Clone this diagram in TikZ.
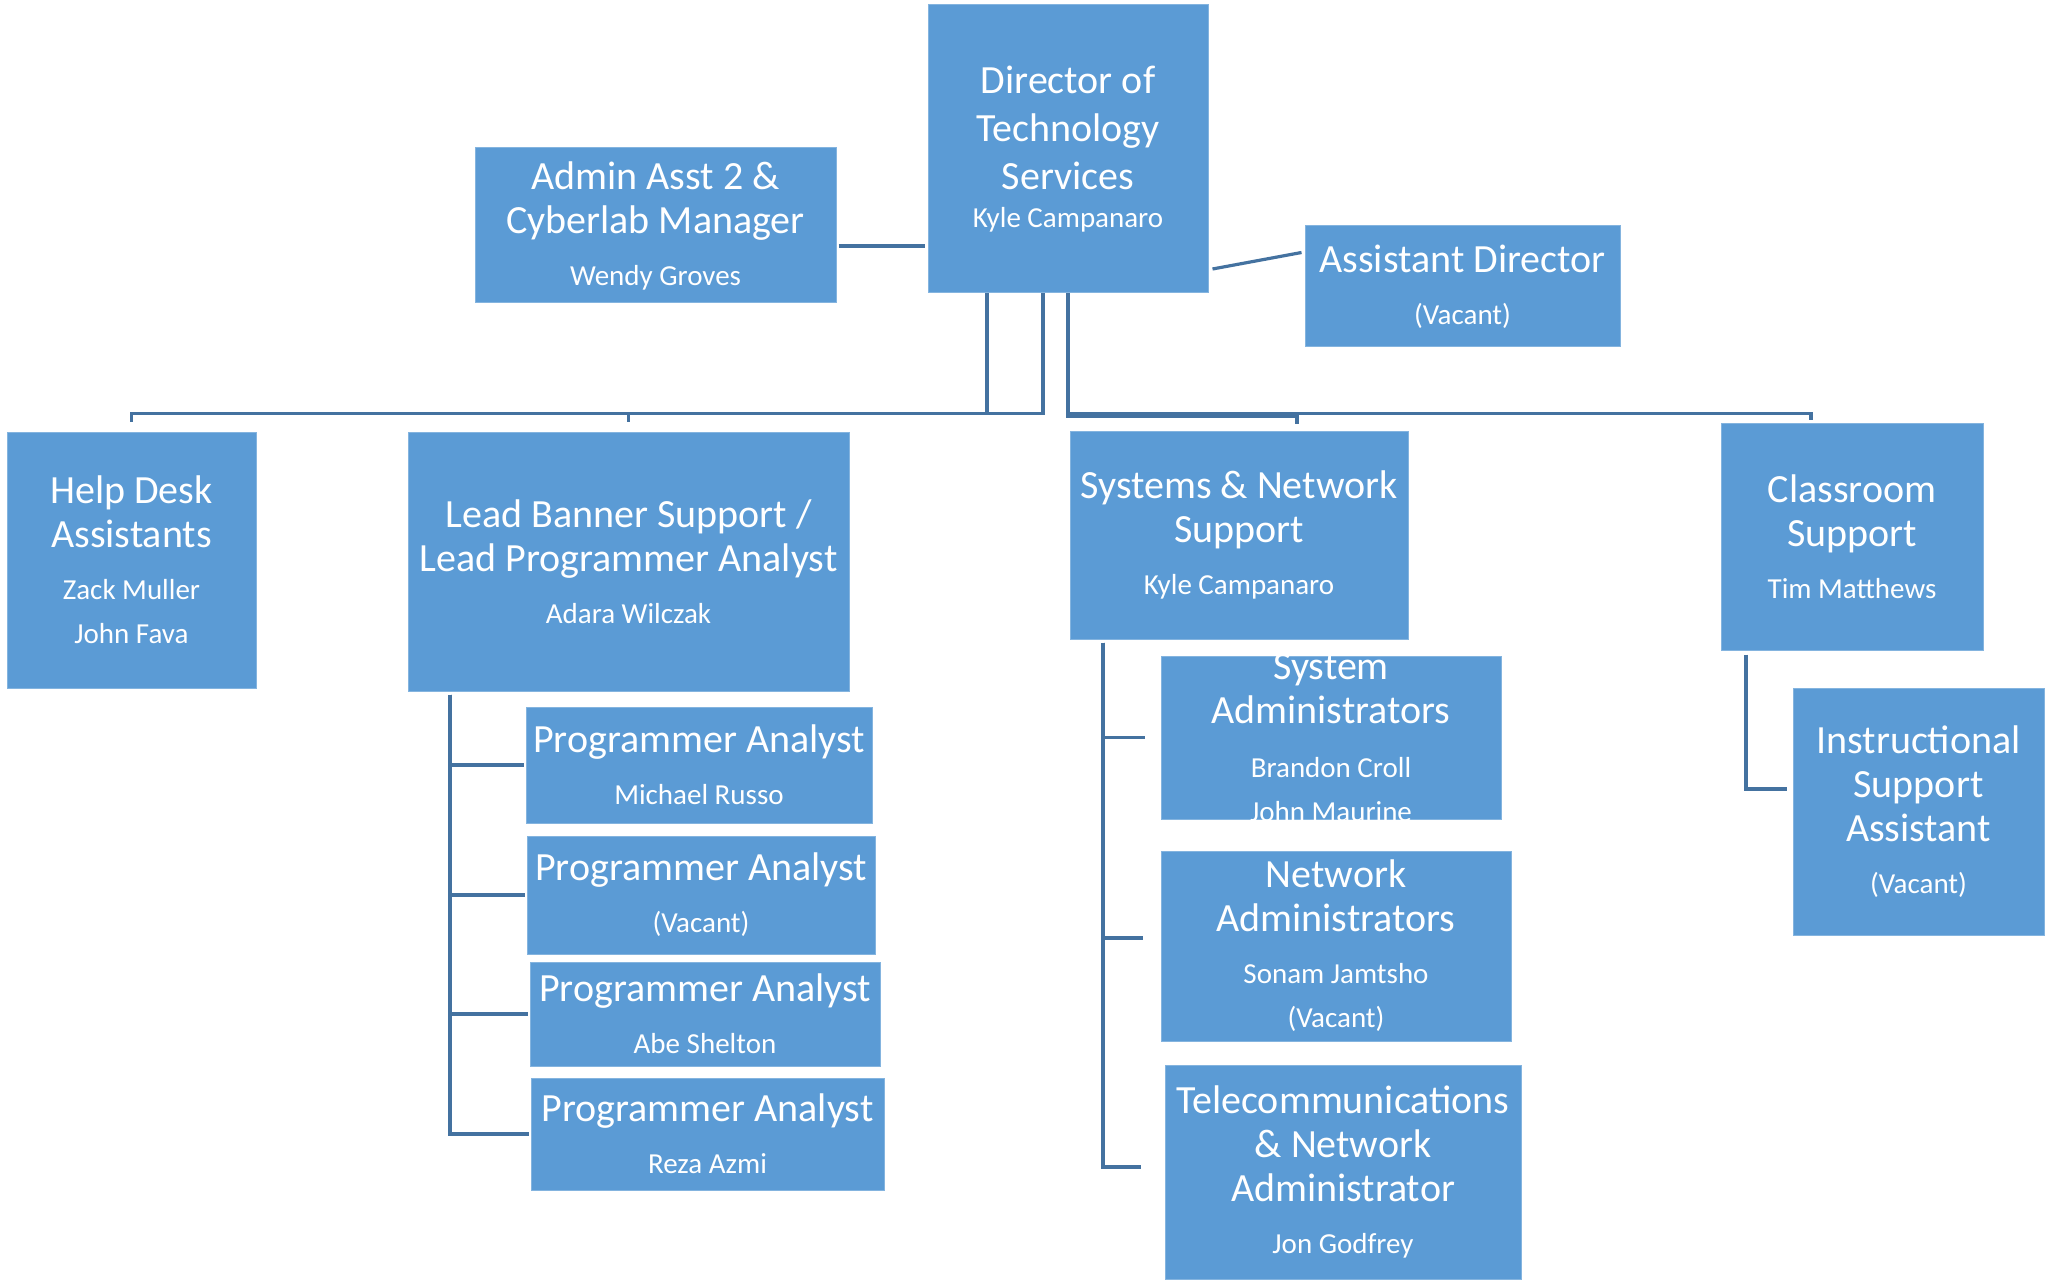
\documentclass[tikz,border=0pt]{standalone}
\usepackage{fontspec}
\setmainfont{Carlito}
\usepackage{tikz}

\definecolor{boxblue}{RGB}{91,155,213}
\definecolor{lineblue}{RGB}{68,114,160}
\newcommand{\who}[1]{{\fontsize{14.5}{22}\selectfont #1}}

\begin{document}
\begin{tikzpicture}[x=0.5pt,y=-0.5pt,
    post/.style={fill=boxblue, draw=boxblue!75!white, line width=0.5pt, text=white,
        align=center, inner sep=0pt, font=\fontsize{20}{22}\selectfont},
    link/.style={draw=lineblue, line width=1.6pt}]
    \useasboundingbox (0,0) rectangle (2048,1283);

    % top row
    \node[post, minimum width=140pt, minimum height=144pt] (dir) at (1068,149)
        {Director of\\[2pt]Technology\\[2pt]Services\\[-3pt]\who{Kyle Campanaro}};
    \node[post, minimum width=180.5pt, minimum height=77.5pt] (admin) at (655.5,225.5)
        {Admin Asst 2 \&\\Cyberlab Manager\\[4pt]\who{Wendy Groves}};
    \node[post, minimum width=157.5pt, minimum height=60.5pt] (asst) at (1462.5,286.5)
        {Assistant Director\\[4pt]\who{(Vacant)}};

    % second row
    \node[post, minimum width=124.5pt, minimum height=128pt] (help) at (131.5,560)
        {Help Desk\\Assistants\\[4pt]\who{Zack Muller}\\\who{John Fava}};
    \node[post, minimum width=220.5pt, minimum height=129.5pt] (lead) at (628.5,561.5)
        {Lead Banner Support /\\Lead Programmer Analyst\\[4pt]\who{Adara Wilczak}};
    \node[post, minimum width=169pt, minimum height=104pt] (sysnet) at (1239,535)
        {Systems \& Network\\Support\\[4pt]\who{Kyle Campanaro}};
    \node[post, minimum width=131pt, minimum height=113.5pt] (class) at (1852,536.5)
        {Classroom\\Support\\[4pt]\who{Tim Matthews}};

    % programmer analysts
    \node[post, minimum width=173pt, minimum height=58pt] (pa1) at (699,765)
        {Programmer Analyst\\[4pt]\who{Michael Russo}};
    \node[post, minimum width=174pt, minimum height=59pt] (pa2) at (701,895)
        {Programmer Analyst\\[4pt]\who{(Vacant)}};
    \node[post, minimum width=175pt, minimum height=52pt] (pa3) at (705,1014)
        {Programmer Analyst\\[4pt]\who{Abe Shelton}};
    \node[post, minimum width=176.5pt, minimum height=56pt] (pa4) at (707.5,1134)
        {Programmer Analyst\\[4pt]\who{Reza Azmi}};

    % systems and network staff
    \node[post, minimum width=170pt, minimum height=81.5pt, inner ysep=-4pt] (sysadm) at (1331,737.5)
        {System\\Administrators\\[5pt]\who{Brandon Croll}\\\who{John Maurine}};
    \node[post, minimum width=175pt, minimum height=95pt] (netadm) at (1336,946)
        {Network\\Administrators\\[4pt]\who{Sonam Jamtsho}\\\who{(Vacant)}};
    \node[post, minimum width=178pt, minimum height=107pt] (tele) at (1343,1172)
        {Telecommunications\\\& Network\\Administrator\\[4pt]\who{Jon Godfrey}};

    % classroom staff
    \node[post, minimum width=125.5pt, minimum height=123.5pt] (instr) at (1918.5,811.5)
        {Instructional\\Support\\Assistant\\[4pt]\who{(Vacant)}};

    % director links
    \draw[link] ([xshift=1pt,yshift=-10.25pt]admin.east) -- ([xshift=-1.5pt,yshift=-10.25pt]admin.east -| dir.west);
    \draw[link] ([xshift=2pt,yshift=-60pt]dir.east) -- ([xshift=-1.5pt,yshift=17pt]asst.west);
    \draw[link] ([xshift=-40.5pt]dir.south) -- ++(0,120) -| ([yshift=5pt]help.north);
    \draw[link] ([xshift=-12.5pt]dir.south) -- ++(0,120) -| ([yshift=5pt]lead.north);
    \draw[link] (dir.south) -- ++(0,123) -| ([xshift=29pt,yshift=3.5pt]sysnet.north);
    \draw[link] (dir.south) -- ++(0,120) -| ([xshift=-20.5pt,yshift=1.5pt]class.north);

    % lead links
    \foreach \p in {pa1,pa2,pa3,pa4}
        \draw[link] ([xshift=-89.25pt,yshift=-1.5pt]lead.south) |- ([xshift=-1pt]\p.west);

    % systems links
    \draw[link] ([xshift=-68pt,yshift=-1.5pt]sysnet.south) |- ([xshift=-8pt]sysadm.west);
    \draw[link] ([xshift=-68pt,yshift=-1.5pt]sysnet.south) |- ([xshift=-9pt,yshift=4pt]netadm.west);
    \draw[link] ([xshift=-68pt,yshift=-1.5pt]sysnet.south) |- ([xshift=-12pt,yshift=2.5pt]tele.west);

    % classroom link
    \draw[link] ([xshift=-53pt,yshift=-2pt]class.south) |- ([xshift=-3pt,yshift=11.25pt]instr.west);
\end{tikzpicture}
\end{document}
